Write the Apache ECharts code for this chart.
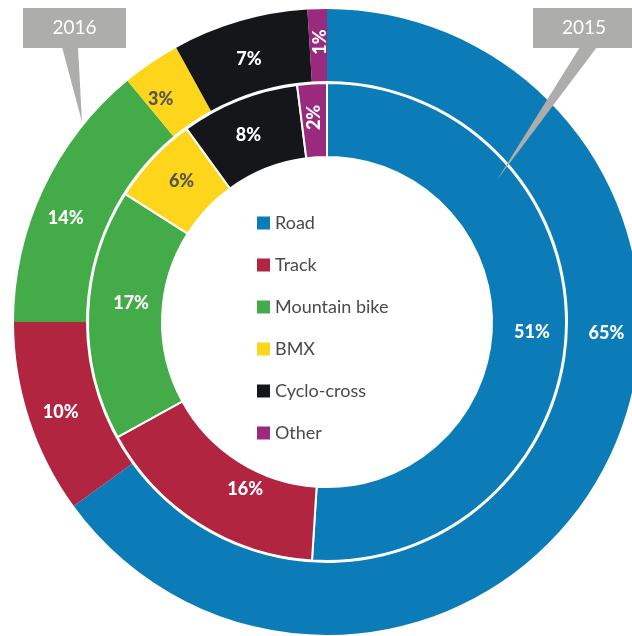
<!DOCTYPE html>
<html>
<head>
<meta charset="utf-8">
<script src="https://cdn.jsdelivr.net/npm/echarts@6/dist/echarts.min.js"></script>
<style>
html,body{margin:0;padding:0;background:#fff;}
#chart{width:632px;height:636px;}
</style>
</head>
<body>
<div id="chart"></div>
<script>
// Data
const categories = ['Road', 'Track', 'Mountain bike', 'BMX', 'Cyclo-cross', 'Other'];
const values2016 = [65, 10, 14, 3, 7, 1];   // outer ring
const values2015 = [51, 16, 17, 6, 8, 2];   // inner ring
const yearLabels = ['2016', '2015'];

const palette = ['#0b7cb8', '#b22541', '#43ac48', '#fdd51a', '#15161a', '#9a2a7e'];

// hand-placed label nudges seen in the reference (pixels)
const outerNudge = [[30, -116], [0, 4], [-8, 15], [-9, 9], [0, 6], [0, 2]];
const innerNudge = [[0, 4], [28, -6], [9, -12], [4, 0], [-3, 4], [0, 0]];

function buildData(values) {
  return values.map(function (v, i) {
    const item = { name: categories[i], value: v };
    if (categories[i] === 'BMX') item.label = { color: '#555555' };
    if (categories[i] === 'Other') item.label = { rotate: 90 };
    return item;
  });
}

const chart = echarts.init(document.getElementById('chart'), null, { renderer: 'canvas' });

const labelBase = {
  show: true,
  position: 'inside',
  formatter: '{c}%',
  color: '#ffffff',
  fontFamily: 'Lato',
  fontWeight: 900,
  fontSize: 18
};

const gray = '#adaeac';

chart.setOption({
  animation: false,
  color: palette,
  legend: {
    orient: 'vertical',
    left: 252,
    top: 209,
    itemWidth: 13,
    itemHeight: 13,
    itemGap: 24,
    icon: 'rect',
    data: categories,
    selectedMode: false,
    textStyle: {
      fontFamily: 'Lato',
      fontSize: 18,
      color: '#4a4a4a',
      lineHeight: 18,
      padding: [0, 0, 0, 0]
    }
  },
  series: [
    {
      name: yearLabels[0],
      type: 'pie',
      center: [327, 322],
      radius: [241, 313],
      startAngle: 90,
      clockwise: true,
      avoidLabelOverlap: false,
      silent: true,
      label: labelBase,
      labelLine: { show: false },
      itemStyle: { borderWidth: 0 },
      labelLayout: function (params) {
        const n = outerNudge[params.dataIndex];
        return { dx: n[0], dy: n[1] };
      },
      data: buildData(values2016)
    },
    {
      name: yearLabels[1],
      type: 'pie',
      center: [327, 322],
      radius: [165, 239],
      startAngle: 90,
      clockwise: true,
      avoidLabelOverlap: false,
      silent: true,
      label: labelBase,
      labelLine: { show: false },
      itemStyle: { borderColor: '#ffffff', borderWidth: 2 },
      labelLayout: function (params) {
        const n = innerNudge[params.dataIndex];
        return { dx: n[0], dy: n[1] };
      },
      data: buildData(values2015)
    }
  ],
  graphic: [
    {
      type: 'polygon', z: 100,
      shape: { points: [[62, 47], [78, 47], [82, 122]] },
      style: { fill: gray }
    },
    {
      type: 'rect', z: 100,
      shape: { x: 23, y: 8, width: 103, height: 40 },
      style: { fill: gray }
    },
    {
      type: 'text', z: 101,
      x: 74.5, y: 28,
      style: {
        text: yearLabels[0], fill: '#ffffff', fontFamily: 'Lato', fontSize: 19,
        align: 'center', verticalAlign: 'middle'
      }
    },
    {
      type: 'polygon', z: 100,
      shape: { points: [[580, 47], [597, 47], [497, 180]] },
      style: { fill: gray }
    },
    {
      type: 'rect', z: 100,
      shape: { x: 533, y: 8, width: 99, height: 40 },
      style: { fill: gray }
    },
    {
      type: 'text', z: 101,
      x: 584, y: 28,
      style: {
        text: yearLabels[1], fill: '#ffffff', fontFamily: 'Lato', fontSize: 19,
        align: 'center', verticalAlign: 'middle'
      }
    }
  ]
});
</script>
</body>
</html>
